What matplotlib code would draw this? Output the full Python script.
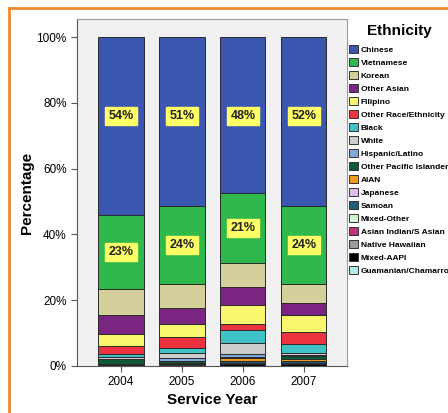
import matplotlib
matplotlib.use("Agg")
import matplotlib.pyplot as plt
from matplotlib.patches import Patch
from matplotlib.lines import Line2D
import numpy as np

plt.rcParams['font.family'] = ['Liberation Sans', 'DejaVu Sans']

years = ["2004", "2005", "2006", "2007"]

# legend order (top of bar first)
groups = ["Chinese", "Vietnamese", "Korean", "Other Asian", "Filipino",
          "Other Race/Ethnicity", "Black", "White", "Hispanic/Latino",
          "Other Pacific Islander", "AIAN", "Japanese", "Samoan", "Mixed-Other",
          "Asian Indian/S Asian", "Native Hawaiian", "Mixed-AAPI",
          "Guamanian/Chamarro"]

colors = ["#3b56b0", "#2fb84b", "#d5cf9c", "#7a2581", "#f8f66c",
          "#ee3340", "#40c3c7", "#cdcdcd", "#80a8dc",
          "#0f5a36", "#f39a1e", "#e2bcee", "#1f5f78", "#d2f7d2",
          "#c1317b", "#9a9a9a", "#000000", "#b2eaea"]

# percentages per year, same order as groups
chinese    = [54.1, 51.4, 47.5, 51.5]
vietnamese = [22.6, 23.8, 21.3, 23.5]
korean     = [7.7, 7.1, 7.3, 5.8]
other_asian = [5.8, 5.1, 5.4, 3.7]
filipino   = [3.8, 3.9, 5.7, 5.3]
other_race = [2.5, 3.2, 1.9, 3.6]
black      = [0.7, 1.5, 4.0, 2.7]
white      = [0.6, 1.5, 3.3, 0.7]
hispanic   = [0.2, 1.1, 0.8, 0.3]
opi        = [1.5, 0.5, 0.5, 0.8]
aian       = [0.0, 0.0, 0.8, 0.6]
japanese   = [0.0, 0.2, 0.1, 0.0]
samoan     = [0.3, 0.2, 0.6, 0.6]
mixed_other = [0.0, 0.0, 0.0, 0.0]
asian_indian = [0.0, 0.0, 0.3, 0.0]
native_haw = [0.0, 0.2, 0.0, 0.4]
mixed_aapi = [0.2, 0.3, 0.5, 0.5]
guamanian  = [0.0, 0.0, 0.0, 0.0]

series = [chinese, vietnamese, korean, other_asian, filipino, other_race,
          black, white, hispanic, opi, aian, japanese, samoan, mixed_other,
          asian_indian, native_haw, mixed_aapi, guamanian]

fig = plt.figure(figsize=(4.48, 4.13), dpi=100)
ax = fig.add_axes([0.172, 0.114, 0.603, 0.840])
ax.set_facecolor("#f1f1f1")

x = np.arange(len(years))
bottom = np.zeros(len(years))
# stack from the bottom (last legend entry) up to Chinese
for name, vals, col in reversed(list(zip(groups, series, colors))):
    vals = np.array(vals)
    ax.bar(x, vals, 0.74, bottom=bottom, color=col, edgecolor="#2a2a2a",
           linewidth=0.7, zorder=2)
    bottom += vals

# percentage labels
box = dict(boxstyle="square,pad=0.25", facecolor="#ffff66", edgecolor="#ffff66")
for i in range(len(years)):
    ax.text(x[i], 76, f"{chinese[i]:.0f}%", ha="center", va="center",
            fontsize=9, fontweight="bold", color="#222222", bbox=box, zorder=3)
    base = 100 - chinese[i] - vietnamese[i]
    ax.text(x[i], base + vietnamese[i] / 2, f"{vietnamese[i]:.0f}%",
            ha="center", va="center", fontsize=9, fontweight="bold",
            color="#222222", bbox=box, zorder=3)

ax.set_xlim(-0.72, 3.71)
ax.set_ylim(0, 105.5)
ax.set_xticks(x)
ax.set_xticklabels(years, fontsize=8.5)
ax.set_yticks([0, 20, 40, 60, 80, 100])
ax.set_yticklabels(["0%", "20%", "40%", "60%", "80%", "100%"], fontsize=8.5)
ax.tick_params(length=4, color="#555555", width=0.8)
for s in ax.spines.values():
    s.set_color("#999999")
    s.set_linewidth(0.8)
ax.spines["left"].set_color("#555555")
ax.spines["bottom"].set_color("#555555")
ax.set_xlabel("Service Year", fontsize=11, fontweight="bold", labelpad=3)
ax.set_ylabel("Percentage", fontsize=11, fontweight="bold", labelpad=2)

handles = [Patch(facecolor=c, edgecolor="#333333", linewidth=0.7) for c in colors]
leg = fig.legend(handles, groups, loc="upper left",
                 bbox_to_anchor=(0.772, 0.951), frameon=False,
                 title="Ethnicity", handlelength=1.1, handleheight=1.1,
                 handletextpad=0.3, labelspacing=0.5, borderaxespad=0,
                 prop={"family": "Liberation Sans", "weight": "bold", "size": 6},
                 title_fontproperties={"weight": "bold", "size": 11})
leg._legend_box.sep = 5.5

# orange frame of the original screenshot
fig.add_artist(Line2D([9 / 448, 9 / 448], [0, 1 - 8 / 413], color="#f08a2a",
                      linewidth=2, transform=fig.transFigure))
fig.add_artist(Line2D([9 / 448, 1], [1 - 8 / 413, 1 - 8 / 413], color="#f08a2a",
                      linewidth=2, transform=fig.transFigure))

fig.savefig("out.png", dpi=100)
